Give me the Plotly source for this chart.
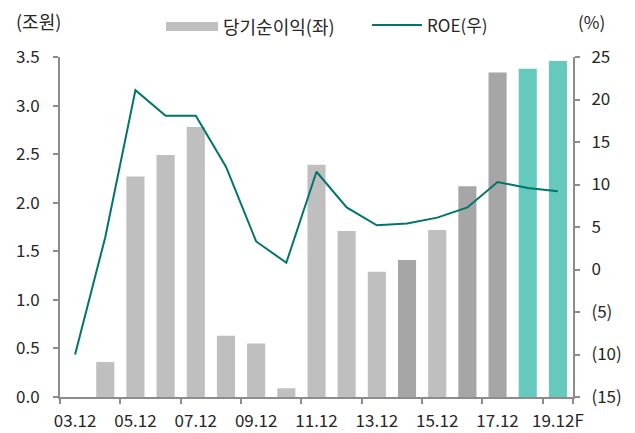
import plotly.graph_objects as go

categories = ["03.12", "04.12", "05.12", "06.12", "07.12", "08.12", "09.12", "10.12",
              "11.12", "12.12", "13.12", "14.12", "15.12", "16.12", "17.12", "18.12F", "19.12F"]
net_income = [-0.03, 0.36, 2.27, 2.49, 2.78, 0.63, 0.55, 0.09, 2.39, 1.71, 1.29, 1.41,
              1.72, 2.17, 3.34, 3.38, 3.46]
roe = [-10.0, 3.8, 21.1, 18.1, 18.1, 12.1, 3.3, 0.8, 11.5, 7.3, 5.2, 5.4, 6.1, 7.3,
       10.3, 9.6, 9.2]
bar_group = ["light"] * 11 + ["dark", "light", "dark", "dark", "teal", "teal"]
group_colors = {"light": "#BFBFBF", "dark": "#A6A6A6", "teal": "#66C9BD"}
left_ticks = [0.0, 0.5, 1.0, 1.5, 2.0, 2.5, 3.0, 3.5]
right_ticks = [-15, -10, -5, 0, 5, 10, 15, 20, 25]
right_ticktext = ["(15)", "(10)", "(5)", "0", "5", "10", "15", "20", "25"]
xtick_cats = categories[::2]
xtick_text = ["03.12", "05.12", "07.12", "09.12", "11.12", "13.12", "15.12", "17.12", "19.12F"]

FONT = "Noto Sans CJK KR"
TXT = "#262626"
AX = "#8C8C8C"

fig = go.Figure()
fig.add_trace(go.Bar(
    x=categories, y=net_income, name="당기순이익(좌)",
    marker=dict(color=[group_colors[g] for g in bar_group], line=dict(width=0)),
    width=0.6, showlegend=False,
))
fig.add_trace(go.Scatter(
    x=categories, y=roe, name="ROE(우)", yaxis="y2", mode="lines",
    line=dict(color="#00756B", width=2), showlegend=False,
))

l, r, t, b = 60, 62, 57, 36
W, H = 635, 433
pw, ph = W - l - r, H - t - b

def px(x):
    return (x - l) / pw

def py(y):
    return (H - b - y) / ph

shapes = [
    dict(type="rect", xref="paper", yref="paper", x0=px(166), x1=px(218),
         y0=py(31), y1=py(22), fillcolor="#BFBFBF", line=dict(width=0)),
    dict(type="line", xref="paper", yref="paper", x0=px(372), x1=px(422),
         y0=py(25), y1=py(25), line=dict(color="#00756B", width=2)),
]
annotations = [
    dict(text="당기순이익(좌)", xref="paper", yref="paper", x=px(221), y=py(26),
         xanchor="left", yanchor="middle", showarrow=False, font=dict(size=18)),
    dict(text="ROE(우)", xref="paper", yref="paper", x=px(425), y=py(25),
         xanchor="left", yanchor="middle", showarrow=False),
    dict(text="(조원)", xref="paper", yref="paper", x=px(38), y=py(21),
         xanchor="center", yanchor="middle", showarrow=False, font=dict(size=18)),
    dict(text="(%)", xref="paper", yref="paper", x=px(591), y=py(22),
         xanchor="center", yanchor="middle", showarrow=False),
]

fig.update_layout(
    width=W, height=H,
    margin=dict(l=l, r=r, t=t, b=b, pad=0, autoexpand=False),
    paper_bgcolor="white", plot_bgcolor="white",
    font=dict(family=FONT, size=17, color=TXT),
    bargap=0.4,
    shapes=shapes, annotations=annotations,
    xaxis=dict(
        type="category", range=[-0.5, 16.5], automargin=False,
        tickmode="array", tickvals=xtick_cats, ticktext=xtick_text, tickangle=0,
        ticks="outside", tickson="boundaries", ticklen=5, tickcolor=AX, tickwidth=1.5,
        showline=True, linecolor=AX, linewidth=2, showgrid=False, zeroline=False,
        ticklabelstandoff=8,
    ),
    yaxis=dict(
        range=[0, 3.5], tickvals=left_ticks, tickformat=".1f", automargin=False,
        ticks="outside", ticklen=5, tickcolor=AX, tickwidth=1.5,
        showline=True, linecolor=AX, linewidth=2, showgrid=False, zeroline=False,
        ticklabelstandoff=10,
    ),
    yaxis2=dict(
        overlaying="y", side="right", range=[-15, 25], automargin=False,
        tickvals=right_ticks, ticktext=right_ticktext,
        ticks="outside", ticklen=5, tickcolor=AX, tickwidth=1.5,
        showline=True, linecolor=AX, linewidth=2, showgrid=False, zeroline=False,
        ticklabelstandoff=8,
    ),
)

fig.write_html("out.html", config={"displayModeBar": False},
               post_script="document.body.style.margin='0';")
